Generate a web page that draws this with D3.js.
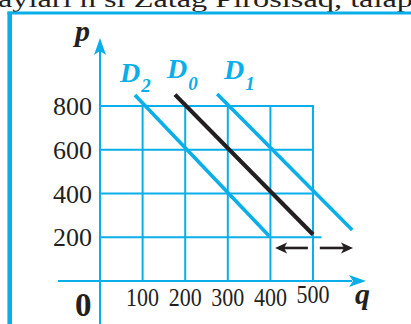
<!DOCTYPE html>
<html>
<head>
<meta charset="utf-8">
<script src="https://cdn.jsdelivr.net/npm/d3@7"></script>
<style>
  html, body { margin: 0; padding: 0; background: #fff; }
  svg { display: block; }
  text { font-family: "Liberation Serif", "DejaVu Serif", serif; }
</style>
</head>
<body>
<svg id="svg" width="411" height="324"></svg>
<script>
const blue = '#0aaee9';

// tick values
const pTicks = [200, 400, 600, 800];
const qTicks = [100, 200, 300, 400, 500];

// demand curves, endpoints
const curveNames = ['D2', 'D0', 'D1'];
const curveQ = [[82, 397], [176, 500], [275, 592]];
const curveP = [[850, 206], [852, 213], [855, 233]];

// shift arrows (q from tail to tip, at p)
const shiftQ = [[488, 411], [516, 594]];
const shiftP = 151;

// where the curve labels sit (px)
const labX = [120, 167, 224];
const labY = [82, 78, 79];
const subDy = [10, 12, 11];

const svg = d3.select('#svg');

const x = d3.scaleLinear().domain([0, 500]).range([100, 313]);
const y = d3.scaleLinear().domain([0, 800]).range([281, 106]);

// clipped caption above the frame
svg.append('text')
  .attr('x', -2)
  .attr('y', 7)
  .attr('textLength', 415)
  .attr('lengthAdjust', 'spacingAndGlyphs')
  .style('font-size', '23px')
  .style('fill', '#231f20')
  .text('ayları n sı Zatag Pırosısaq, talap');

// frame
svg.append('line')
  .attr('x1', 7.5).attr('x2', 411).attr('y1', 13).attr('y2', 13)
  .style('stroke', blue).style('stroke-width', 3);
svg.append('line')
  .attr('x1', 9.7).attr('x2', 9.7).attr('y1', 11.5).attr('y2', 324)
  .style('stroke', blue).style('stroke-width', 4.6);

const chart = svg.append('g');

// grid
chart.selectAll('.hgrid')
  .data(pTicks)
  .enter()
  .append('line')
  .attr('class', 'hgrid')
  .attr('x1', x(0))
  .attr('x2', (d) => d == 200 ? x(520) : x(500))
  .attr('y1', (d) => y(d))
  .attr('y2', (d) => y(d))
  .style('stroke', blue).style('stroke-width', 2);

chart.selectAll('.vgrid')
  .data(qTicks)
  .enter()
  .append('line')
  .attr('class', 'vgrid')
  .attr('x1', (d) => x(d))
  .attr('x2', (d) => x(d))
  .attr('y1', y(0))
  .attr('y2', y(800) - 1)
  .style('stroke', blue).style('stroke-width', 2);

// axes
chart.append('line')
  .attr('x1', 58).attr('x2', 352).attr('y1', y(0)).attr('y2', y(0))
  .style('stroke', blue).style('stroke-width', 2);
chart.append('line')
  .attr('x1', x(0)).attr('x2', x(0)).attr('y1', 324).attr('y2', 50)
  .style('stroke', blue).style('stroke-width', 2);

// axis arrow heads
chart.append('path')
  .attr('d', 'M' + 366 + ',' + y(0) + ' l-17,-6 l4,6 l-4,6 z')
  .style('fill', blue);
chart.append('path')
  .attr('d', 'M' + x(0) + ',38 l-6,17 l6,-4 l6,4 z')
  .style('fill', blue);

// tick labels
chart.selectAll('.plab')
  .data(pTicks)
  .enter()
  .append('text')
  .attr('class', 'plab')
  .attr('x', 92)
  .attr('y', (d) => y(d) + 9)
  .attr('text-anchor', 'end')
  .style('font-size', '26px')
  .style('fill', '#231f20')
  .text((d) => d);

chart.selectAll('.qlab')
  .data(qTicks)
  .enter()
  .append('text')
  .attr('class', 'qlab')
  .attr('x', (d) => x(d) - 16.5)
  .attr('y', (d) => d == 500 ? 303 : 306)
  .attr('textLength', 33)
  .attr('lengthAdjust', 'spacingAndGlyphs')
  .style('font-size', '26px')
  .style('fill', '#231f20')
  .text((d) => d);

// axis names
svg.append('text')
  .attr('x', 75).attr('y', 41)
  .style('font-size', '30px').style('font-weight', 'bold').style('font-style', 'italic')
  .style('fill', '#231f20')
  .text('p');
svg.append('text')
  .attr('x', 355).attr('y', 304)
  .style('font-size', '30px').style('font-weight', 'bold').style('font-style', 'italic')
  .style('fill', '#231f20')
  .text('q');
svg.append('text')
  .attr('x', 75).attr('y', 316)
  .style('font-size', '33px').style('font-weight', 'bold')
  .style('fill', '#231f20')
  .text('0');

// demand curves
const line = d3.line().x((d) => x(d[0])).y((d) => y(d[1]));
chart.selectAll('.curve')
  .data(curveNames)
  .enter()
  .append('path')
  .attr('class', 'curve')
  .attr('d', (d, i) => line([[curveQ[i][0], curveP[i][0]], [curveQ[i][1], curveP[i][1]]]))
  .style('fill', 'none')
  .style('stroke', (d) => d == 'D0' ? '#231f20' : blue)
  .style('stroke-width', (d) => d == 'D0' ? 4.2 : 3.6);

// curve labels
const labs = svg.selectAll('.dlab')
  .data(curveNames)
  .enter()
  .append('text')
  .attr('class', 'dlab')
  .attr('x', (d, i) => labX[i])
  .attr('y', (d, i) => labY[i])
  .style('fill', blue)
  .style('font-weight', 'bold')
  .style('font-style', 'italic');
labs.append('tspan')
  .style('font-size', '28px')
  .text('D');
labs.append('tspan')
  .attr('dy', (d, i) => subDy[i])
  .attr('dx', 1)
  .style('font-size', '19px')
  .text((d) => d.slice(1));

// shift arrows
chart.selectAll('.shift')
  .data(shiftQ)
  .enter()
  .append('line')
  .attr('class', 'shift')
  .attr('x1', (d) => x(d[0]))
  .attr('x2', (d) => x(d[1]) + (d[1] > d[0] ? -6 : 6))
  .attr('y1', y(shiftP))
  .attr('y2', y(shiftP))
  .style('stroke', '#231f20').style('stroke-width', 2.6);
chart.selectAll('.shifthead')
  .data(shiftQ)
  .enter()
  .append('path')
  .attr('class', 'shifthead')
  .attr('d', (d) => {
    const s = d[1] > d[0] ? -1 : 1;
    return 'M' + x(d[1]) + ',' + y(shiftP) + ' l' + (12 * s) + ',-5.5 l' + (-3 * s) + ',5.5 l' + (3 * s) + ',5.5 z';
  })
  .style('fill', '#231f20');
</script>
</body>
</html>
